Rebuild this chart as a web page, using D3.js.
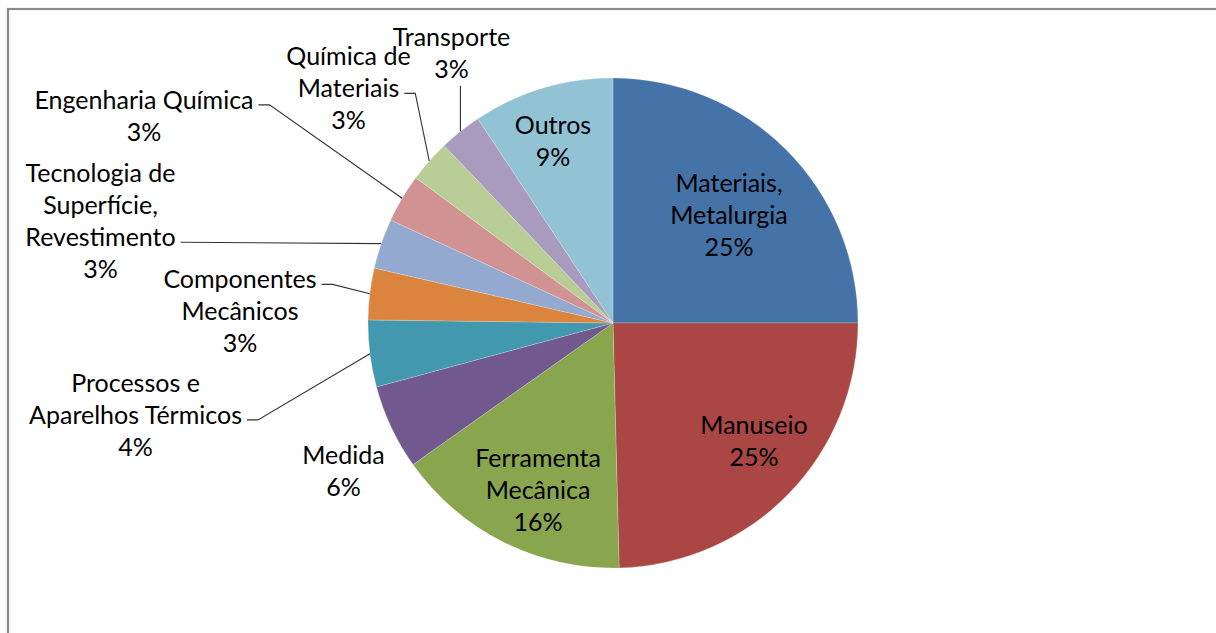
<!DOCTYPE html>
<html>
<head>
<meta charset="utf-8">
<script src="https://cdn.jsdelivr.net/npm/d3@7"></script>
<style>
  html, body { margin: 0; padding: 0; background: #fff; }
  svg { display: block; }
</style>
</head>
<body>
<svg id="chart" width="1216" height="633"></svg>
<script>
// ---- data ----
const categories = [
  "Materiais, Metalurgia", "Manuseio", "Ferramenta Mecânica", "Medida",
  "Processos e Aparelhos Térmicos", "Componentes Mecânicos",
  "Tecnologia de Superfície, Revestimento", "Engenharia Química",
  "Química de Materiais", "Transporte", "Outros"
];
const values = [25.0, 24.6, 15.6, 5.6, 4.4, 3.4, 3.3, 3.2, 2.8, 2.8, 9.3];
const labelLines = [
  ["Materiais,", "Metalurgia"], ["Manuseio"], ["Ferramenta", "Mecânica"], ["Medida"],
  ["Processos e", "Aparelhos Térmicos"], ["Componentes", "Mecânicos"],
  ["Tecnologia de", "Superfície,", "Revestimento"], ["Engenharia Química"],
  ["Química de", "Materiais"], ["Transporte"], ["Outros"]
];
const colors = ["#4572A7", "#AA4643", "#89A54E", "#71588F", "#4198AF", "#DB843D",
                "#93A9CF", "#D19392", "#B9CD96", "#A99BBD", "#92C3D5"];

// ---- layout (label block centres relative to pie centre; leader type) ----
const labelLayout = [
  { dx: 116, dy: -108 },
  { dx: 141, dy: 118 },
  { dx: -75, dy: 167 },
  { dx: -269.5, dy: 148 },
  { dx: -477.5, dy: 92, leader: "elbow", line: 1 },
  { dx: -373, dy: -11.5, leader: "elbow", line: 0 },
  { dx: -512.5, dy: -101.6, leader: "straight", line: 2 },
  { dx: -469, dy: -207, leader: "elbow", line: 0 },
  { dx: -264.5, dy: -234.5, leader: "elbow", line: 1 },
  { dx: -161.5, dy: -270.2, leader: "vertical" },
  { dx: -60, dy: -181.5 }
];

const W = 1216, H = 633;
const cx = 613, cy = 323, R = 245;
const fontSize = 25, lineH = 32, capHalf = 8.9;

const svg = d3.select("#chart");

// chart frame
svg.append("rect")
  .attr("x", 8).attr("y", 9).attr("width", W + 40).attr("height", H + 40)
  .attr("fill", "#fff").attr("stroke", "#8a8a8a").attr("stroke-width", 2.2);

const g = svg.append("g").attr("transform", `translate(${cx},${cy})`);

const pie = d3.pie().sort(null).value(d => d)(values);
const arc = d3.arc().innerRadius(0).outerRadius(R);
const total = d3.sum(values);

g.selectAll("path.slice").data(pie).join("path")
  .attr("class", "slice")
  .attr("d", arc)
  .attr("fill", (d, i) => colors[i])
  .attr("stroke", "rgba(255,255,255,0.35)")
  .attr("stroke-width", 0.6);

const font = "Lato, 'Open Sans', sans-serif";
const labelsG = g.append("g");
const leadersG = g.append("g");

pie.forEach((d, i) => {
  const lay = labelLayout[i];
  const lines = labelLines[i].concat([Math.round(values[i] / total * 100) + "%"]);
  const n = lines.length;
  const firstBase = lay.dy - (n - 1) * lineH / 2 + capHalf;
  const t = labelsG.append("text")
    .attr("font-family", font).attr("font-size", fontSize)
    .attr("fill", "#000").attr("text-anchor", "middle");
  const spans = lines.map((s, k) => t.append("tspan")
    .attr("x", lay.dx).attr("y", firstBase + k * lineH).text(s));

  if (!lay.leader) return;
  const mid = (d.startAngle + d.endAngle) / 2;
  const ex = R * Math.sin(mid), ey = -R * Math.cos(mid);
  let pts;
  if (lay.leader === "vertical") {
    const yTop = firstBase + (n - 1) * lineH + 8;
    pts = [[ex, yTop], [ex, ey]];
  } else {
    const k = lay.line;
    const w = spans[k].node().getComputedTextLength();
    const sx = lay.dx + w / 2 + 5;
    const sy = firstBase + k * lineH - 4;
    pts = lay.leader === "elbow" ? [[sx, sy], [sx + 11, sy], [ex, ey]] : [[sx, sy], [ex, ey]];
  }
  leadersG.append("path")
    .attr("d", d3.line()(pts))
    .attr("fill", "none").attr("stroke", "#333").attr("stroke-width", 1.1);
});
</script>
</body>
</html>
